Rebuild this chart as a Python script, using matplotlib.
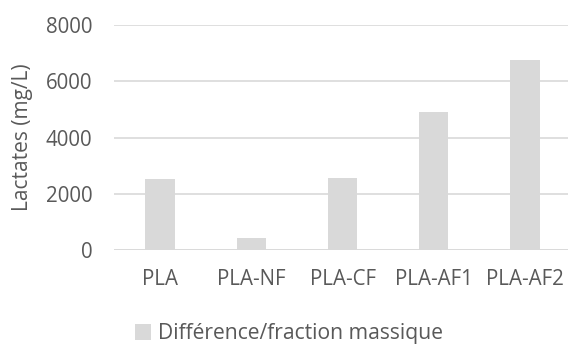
import matplotlib
matplotlib.use("Agg")
import matplotlib.pyplot as plt
from matplotlib.patches import Patch

# Lactates mesurés par échantillon
categories = ["PLA", "PLA-NF", "PLA-CF", "PLA-AF1", "PLA-AF2"]
lactates = [2530, 440, 2560, 4890, 6760]
yticks = [0, 2000, 4000, 6000, 8000]
serie = "Différence/fraction massique"

gris_barre = "#d9d9d9"
gris_texte = "#595959"

plt.rcParams["font.family"] = ["Open Sans", "DejaVu Sans"]

W, H = 568, 345
fig = plt.figure(figsize=(W / 100, H / 100), dpi=100)
ax = fig.add_axes([114.4 / W, (H - 250) / H, 456.2 / W, 225 / H])

x = range(len(categories))
ax.bar(x, lactates, width=0.32, color=gris_barre, zorder=2)

ax.set_xlim(-0.5, len(categories) - 0.5)
ax.set_ylim(0, 8000)
ax.set_yticks(yticks)
ax.set_xticks(list(x))
ax.set_xticklabels(categories)

ax.grid(axis="y", color=gris_barre, linewidth=1.2, zorder=0)
for s in ax.spines.values():
    s.set_visible(False)
ax.axhline(0, color=gris_barre, linewidth=1.2, zorder=1)

ax.tick_params(axis="both", length=0, labelsize=14.8, colors=gris_texte)
ax.tick_params(axis="y", pad=16)
ax.tick_params(axis="x", pad=14)

fig.text(23 / W, 1 - 137 / H, "Lactates (mg/L)", rotation=90, ha="center",
         va="center", fontsize=15, color=gris_texte)

fig.legend(handles=[Patch(facecolor=gris_barre, label=serie)],
           loc="center", bbox_to_anchor=(289 / W, 1 - 334 / H), frameon=False,
           fontsize=15.2, labelcolor=gris_texte, handlelength=0.75,
           handleheight=0.75, handletextpad=0.3)

fig.savefig("out.png", dpi=100)
